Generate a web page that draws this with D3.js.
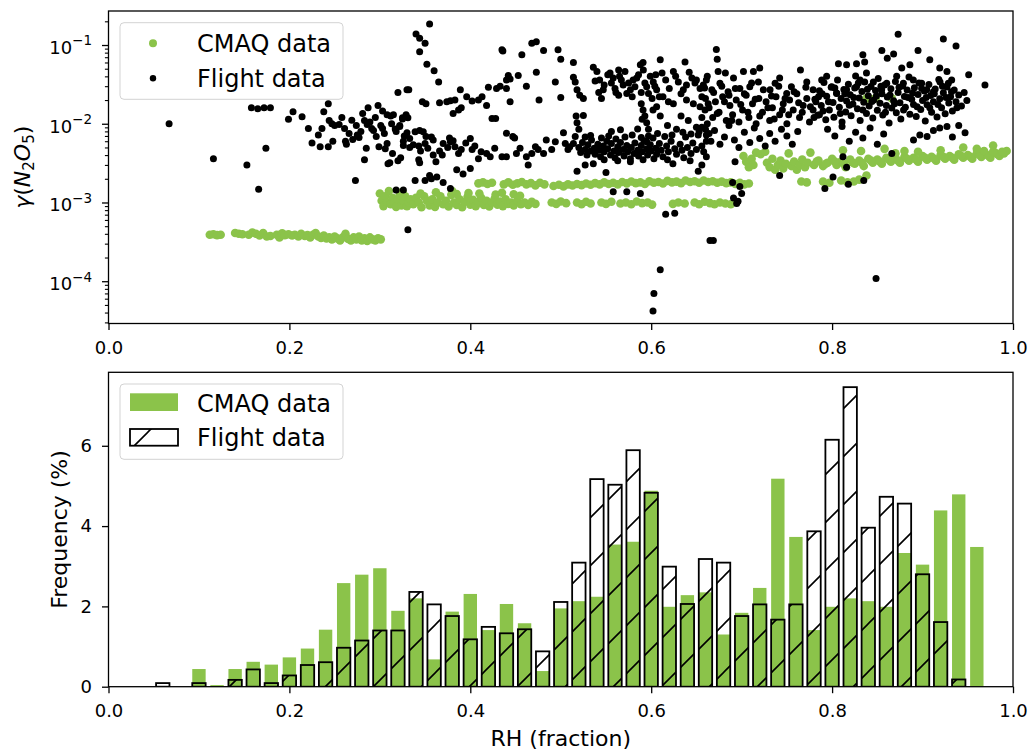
<!DOCTYPE html>
<html>
<head>
<meta charset="utf-8">
<script src="https://cdn.jsdelivr.net/npm/d3@7"></script>
<style>
  body { margin: 0; background: #fff; }
  text { font-family: "DejaVu Sans", sans-serif; fill: #000; }
</style>
</head>
<body>
<svg id="chart" width="1029" height="751"></svg>
<script>
// ---- data ----
const rhTicks = [0.0, 0.2, 0.4, 0.6, 0.8, 1.0];
const gammaTicks = [1e-4, 1e-3, 1e-2, 1e-1];
const freqTicks = [0, 2, 4, 6];

const binCenters = [0.00,0.02,0.04,0.06,0.08,0.10,0.12,0.14,0.16,0.18,
  0.20,0.22,0.24,0.26,0.28,0.30,0.32,0.34,0.36,0.38,
  0.40,0.42,0.44,0.46,0.48,0.50,0.52,0.54,0.56,0.58,
  0.60,0.62,0.64,0.66,0.68,0.70,0.72,0.74,0.76,0.78,
  0.80,0.82,0.84,0.86,0.88,0.90,0.92,0.94,0.96,0.98];

const cmaqFreq = [0,0,0,0,0,0.44,0.04,0.44,0.62,0.55,
  0.73,0.95,1.42,2.58,2.79,2.95,1.89,2.20,0.68,1.87,
  2.31,1.41,2.06,1.58,0.39,1.95,2.13,2.24,3.54,3.61,
  4.88,1.99,2.28,2.35,1.30,1.84,2.46,5.18,3.73,1.41,
  1.99,2.20,2.13,1.99,3.33,3.04,4.39,4.79,3.48,0];

const flightFreq = [0,0,0,0.09,0,0.09,0,0.17,0.43,0.09,
  0.28,0.54,0.61,0.97,1.15,1.40,1.40,2.36,2.05,1.76,
  1.18,1.49,1.33,1.43,0.88,2.11,3.09,5.17,5.03,5.89,
  4.83,2.99,2.06,3.18,3.09,1.76,2.05,1.67,2.05,3.87,
  6.15,7.46,3.96,4.73,4.56,2.80,1.61,0.18,0,0];

// [RH, gamma]
const cmaqPoints = [
  [0.112,3.9e-4],[0.116,3.95e-4],[0.120,3.85e-4],[0.124,3.9e-4],
  [0.140,4.1e-4],[0.144,4.0e-4],[0.148,3.95e-4],
  [0.155,3.9e-4],[0.159,4.15e-4],[0.163,4.0e-4],[0.167,3.8e-4],[0.171,4.1e-4],[0.175,3.7e-4],[0.179,3.75e-4],
  [0.186,3.9e-4],[0.189,3.6e-4],[0.192,4.05e-4],[0.195,3.85e-4],[0.199,3.95e-4],[0.203,3.8e-4],[0.206,3.9e-4],
  [0.210,3.7e-4],[0.213,4.0e-4],[0.217,3.75e-4],[0.220,3.85e-4],[0.223,3.6e-4],[0.226,3.9e-4],[0.229,4.1e-4],
  [0.232,3.7e-4],[0.235,3.55e-4],[0.238,3.8e-4],[0.241,3.5e-4],[0.244,3.6e-4],[0.247,3.4e-4],[0.250,3.7e-4],
  [0.253,3.5e-4],[0.256,3.3e-4],[0.259,3.6e-4],[0.262,4.0e-4],[0.265,3.45e-4],[0.268,3.3e-4],[0.271,3.6e-4],
  [0.274,3.4e-4],[0.277,3.7e-4],[0.280,3.3e-4],[0.283,3.5e-4],[0.286,3.25e-4],[0.289,3.6e-4],[0.292,3.4e-4],
  [0.295,3.3e-4],[0.298,3.5e-4],[0.301,3.4e-4],
  [0.300,1.3e-3],[0.302,1.05e-3],[0.304,9.0e-4],[0.306,1.2e-3],[0.308,1.0e-3],[0.310,1.4e-3],[0.312,9.5e-4],
  [0.314,1.15e-3],[0.316,1.0e-3],[0.318,8.8e-4],[0.320,1.1e-3],[0.322,1.25e-3],[0.324,9.2e-4],[0.326,1.05e-3],
  [0.328,1.2e-3],[0.330,9.0e-4],[0.332,1.0e-3],[0.334,1.1e-3],
  [0.337,9.5e-4],[0.340,1.15e-3],[0.343,1.0e-3],[0.346,8.7e-4],[0.349,1.2e-3],[0.352,1.05e-3],[0.355,9.2e-4],
  [0.358,1.1e-3],[0.361,8.8e-4],[0.364,1.0e-3],[0.367,1.2e-3],[0.370,9.5e-4],[0.373,1.05e-3],[0.376,8.9e-4],
  [0.379,1.25e-3],[0.382,1.0e-3],[0.385,9.3e-4],[0.388,1.1e-3],[0.391,8.7e-4],[0.394,1.02e-3],[0.397,1.18e-3],
  [0.400,9.4e-4],[0.403,1.08e-3],[0.406,9.0e-4],[0.409,1.0e-3],[0.412,1.15e-3],[0.415,9.3e-4],[0.418,1.05e-3],
  [0.421,8.9e-4],[0.424,1.0e-3],[0.427,1.12e-3],[0.430,9.4e-4],[0.433,1.03e-3],[0.436,9.0e-4],[0.439,1.1e-3],
  [0.442,9.6e-4],[0.445,1.0e-3],[0.448,9.2e-4],[0.452,1.05e-3],[0.456,9.5e-4],[0.460,1.0e-3],[0.464,9.3e-4],
  [0.468,1.02e-3],[0.472,9.6e-4],
  [0.345,1.3e-3],[0.362,1.35e-3],[0.385,1.28e-3],[0.398,1.32e-3],[0.410,1.3e-3],[0.428,1.26e-3],[0.435,1.33e-3],
  [0.448,1.27e-3],[0.455,1.22e-3],[0.325,1.37e-3],
  [0.490,1.0e-3],[0.495,9.6e-4],[0.500,1.03e-3],[0.506,9.8e-4],[0.518,1.0e-3],[0.523,9.5e-4],[0.528,1.02e-3],
  [0.533,9.7e-4],[0.545,1.0e-3],[0.550,9.6e-4],[0.556,1.02e-3],[0.566,9.7e-4],[0.572,1.0e-3],[0.578,9.5e-4],
  [0.584,1.03e-3],[0.590,9.8e-4],[0.596,1.0e-3],[0.601,9.4e-4],[0.624,9.6e-4],[0.630,1.0e-3],[0.637,9.7e-4],
  [0.648,1.0e-3],[0.653,9.5e-4],[0.659,1.02e-3],[0.665,9.8e-4],[0.670,9.5e-4],[0.676,1.0e-3],[0.682,9.7e-4],
  [0.688,9.5e-4],
  [0.380,1.4e-3],[0.409,1.75e-3],[0.414,1.8e-3],[0.419,1.72e-3],[0.424,1.78e-3],[0.437,1.7e-3],[0.442,1.8e-3],
  [0.447,1.68e-3],[0.452,1.75e-3],[0.457,1.82e-3],[0.462,1.7e-3],[0.467,1.76e-3],[0.472,1.65e-3],[0.477,1.78e-3],
  [0.482,1.7e-3],[0.492,1.62e-3],[0.498,1.68e-3],[0.503,1.6e-3],[0.508,1.7e-3],[0.513,1.64e-3],[0.518,1.72e-3],
  [0.523,1.66e-3],[0.528,1.74e-3],[0.533,1.68e-3],[0.538,1.76e-3],[0.543,1.7e-3],[0.548,1.8e-3],[0.553,1.72e-3],
  [0.558,1.78e-3],[0.563,1.7e-3],[0.568,1.82e-3],[0.573,1.75e-3],[0.578,1.85e-3],[0.583,1.76e-3],[0.588,1.8e-3],
  [0.593,1.72e-3],[0.598,1.86e-3],[0.603,1.78e-3],[0.608,1.82e-3],[0.613,1.74e-3],[0.618,1.88e-3],[0.623,1.8e-3],
  [0.628,1.84e-3],[0.633,1.76e-3],[0.638,1.9e-3],[0.643,1.82e-3],[0.648,1.86e-3],[0.653,1.78e-3],[0.658,1.9e-3],
  [0.663,1.82e-3],[0.668,1.86e-3],[0.673,1.78e-3],[0.678,1.84e-3],[0.683,1.76e-3],[0.688,1.8e-3],[0.693,1.72e-3],
  [0.698,1.78e-3],[0.703,1.7e-3],[0.708,1.74e-3],
  [0.702,3.9e-3],[0.705,3.3e-3],[0.708,2.8e-3],[0.711,3.6e-3],[0.713,3.0e-3],
  [0.716,4.3e-3],[0.721,4.1e-3],[0.726,4.4e-3],
  [0.728,3.2e-3],[0.731,2.8e-3],[0.734,3.6e-3],[0.737,2.6e-3],[0.740,3.0e-3],[0.743,3.4e-3],[0.746,2.7e-3],
  [0.749,3.1e-3],[0.752,4.2e-3],[0.755,2.9e-3],[0.758,3.3e-3],[0.761,2.6e-3],[0.764,3.0e-3],[0.767,3.5e-3],
  [0.770,2.8e-3],[0.773,3.2e-3],[0.776,4.3e-3],
  [0.766,1.85e-3],[0.772,1.8e-3],[0.790,1.85e-3],[0.797,1.78e-3],[0.810,1.9e-3],[0.817,1.8e-3],[0.824,1.85e-3],
  [0.830,1.95e-3],[0.838,2.2e-3],
  [0.780,3.0e-3],[0.785,3.4e-3],[0.790,2.9e-3],[0.795,3.2e-3],[0.800,3.6e-3],[0.805,3.0e-3],[0.810,3.3e-3],
  [0.815,2.8e-3],[0.820,3.5e-3],[0.825,3.1e-3],[0.830,3.4e-3],[0.835,2.9e-3],[0.840,3.6e-3],[0.845,3.2e-3],
  [0.850,3.5e-3],[0.855,3.1e-3],[0.860,3.7e-3],[0.865,3.3e-3],[0.870,3.6e-3],[0.875,3.2e-3],[0.880,3.8e-3],
  [0.885,3.4e-3],[0.890,3.7e-3],[0.895,3.3e-3],[0.900,3.9e-3],[0.905,3.5e-3],[0.910,3.8e-3],[0.915,3.4e-3],
  [0.920,4.0e-3],[0.925,3.6e-3],[0.930,3.9e-3],[0.935,3.5e-3],[0.940,4.1e-3],[0.945,3.7e-3],[0.950,4.0e-3],
  [0.955,3.6e-3],[0.960,4.2e-3],[0.965,3.8e-3],[0.970,4.1e-3],[0.975,3.7e-3],[0.980,4.3e-3],[0.985,3.9e-3],
  [0.990,4.2e-3],[0.993,4.5e-3],
  [0.783,3.3e-3],[0.793,3.1e-3],[0.803,3.3e-3],[0.813,3.1e-3],[0.823,3.2e-3],[0.833,3.2e-3],[0.843,3.4e-3],
  [0.853,3.3e-3],[0.863,3.5e-3],[0.873,3.4e-3],[0.883,3.6e-3],[0.893,3.5e-3],[0.903,3.7e-3],[0.913,3.6e-3],
  [0.923,3.8e-3],[0.933,3.7e-3],[0.943,3.9e-3],[0.953,3.8e-3],[0.963,4.0e-3],[0.973,3.9e-3],[0.983,4.1e-3],
  [0.988,4.4e-3],[0.978,4.4e-3],[0.968,4.5e-3],
  [0.978,5.3e-3],[0.945,5.0e-3],[0.858,4.8e-3],[0.812,4.6e-3],[0.832,4.5e-3],[0.960,4.8e-3],[0.920,4.6e-3],
  [0.895,4.4e-3],[0.880,4.5e-3],[0.870,4.2e-3],
  [0.838,2.1e-2],[0.843,2.05e-2],[0.848,2.1e-2],[0.866,2.1e-2]
];

const flightPoints = [
  [0.067,1.0e-2],[0.116,3.6e-3],[0.153,3.0e-3],[0.166,1.47e-3],[0.158,1.6e-2],[0.165,1.55e-2],[0.172,1.6e-2],
  [0.179,1.6e-2],[0.174,4.9e-3],[0.199,1.14e-2],[0.204,1.42e-2],[0.214,1.23e-2],[0.221,8.7e-3],[0.225,5.7e-3],
  [0.232,7.2e-3],[0.234,5.1e-3],[0.236,8.7e-3],[0.238,1.42e-2],[0.243,1.8e-2],[0.243,5.1e-3],[0.244,1.1e-2],
  [0.247,1.0e-2],[0.250,9.5e-3],[0.248,6.0e-3],[0.261,8.7e-3],[0.262,6.0e-3],[0.263,5.5e-3],[0.269,1.11e-2],
  [0.273,1.9e-3],[0.274,9.5e-3],[0.275,7.2e-3],[0.277,6.7e-3],[0.281,1.35e-2],[0.283,1.1e-2],[0.283,3.5e-3],
  [0.285,4.9e-3],[0.287,1.6e-2],[0.289,1.05e-2],[0.291,8.7e-3],[0.293,8.2e-3],[0.296,6.9e-3],[0.298,1.7e-2],
  [0.299,5.1e-3],[0.301,9.5e-3],[0.303,8.7e-3],[0.303,1.45e-2],[0.308,5.6e-3],[0.309,3.1e-3],[0.311,3.2e-3],
  [0.308,1.3e-2],[0.312,1.25e-2],[0.315,1.3e-2],[0.318,8.0e-3],[0.317,8.6e-3],[0.320,2.5e-2],[0.320,3.4e-3],
  [0.323,3.7e-3],[0.325,1.15e-2],[0.326,5.3e-3],[0.330,2.7e-2],[0.331,4.5e-4],[0.318,1.44e-3],[0.326,1.44e-3],
  [0.255,9.8e-3],[0.258,1.2e-2],[0.266,7.5e-3],[0.270,6.3e-3],[0.279,8.0e-3],[0.286,9.8e-3],[0.295,1.2e-2],
  [0.305,7.5e-3],[0.313,1.0e-2],[0.322,9.5e-3],[0.327,7.0e-3],[0.329,1.3e-2],[0.333,6.5e-3],[0.306,4.8e-3],
  [0.314,4.2e-3],
  [0.355,0.185],[0.340,0.138],[0.344,0.122],[0.350,0.105],[0.344,0.082],[0.352,0.057],[0.360,0.047],[0.365,0.034],
  [0.332,0.027],[0.347,0.019],[0.351,0.018],[0.325,0.0119],[0.331,0.0119],[0.322,0.0092],[0.330,0.0077],
  [0.339,0.0079],[0.344,0.0082],[0.348,0.0079],[0.337,0.0054],[0.343,0.0052],[0.351,0.0069],[0.357,0.0068],
  [0.359,0.0062],[0.350,0.0056],[0.353,0.0049],[0.359,0.0040],[0.362,0.0033],[0.343,0.0035],[0.344,0.0032],
  [0.339,0.0019],[0.350,0.0019],[0.355,0.0022],[0.357,0.0020],[0.363,0.0021],[0.370,0.0018],[0.378,0.0015],
  [0.366,0.0185],[0.374,0.019],[0.378,0.0196],[0.383,0.020],[0.389,0.027],[0.387,0.015],[0.381,0.0135],
  [0.390,0.016],[0.396,0.022],[0.402,0.0195],[0.409,0.020],[0.413,0.022],[0.420,0.029],[0.418,0.017],
  [0.429,0.028],[0.433,0.030],[0.440,0.036],[0.442,0.041],[0.444,0.037],[0.453,0.041],[0.424,0.0117],
  [0.428,0.0117],[0.440,0.028],[0.444,0.019],[0.435,0.087],[0.436,0.084],[0.457,0.075],[0.468,0.105],
  [0.473,0.110],[0.481,0.085],[0.473,0.045],[0.462,0.030],[0.476,0.020],[0.494,0.034],[0.497,0.087],
  [0.500,0.066],[0.514,0.060],[0.500,0.0216],[0.514,0.039],[0.516,0.034],[0.518,0.027],[0.521,0.023],
  [0.525,0.021],[0.440,0.0076],[0.447,0.0069],[0.449,0.0066],
  [0.370,0.0056],[0.378,0.0059],[0.383,0.0051],[0.387,0.0042],[0.390,0.0047],[0.400,0.0065],[0.402,0.0047],
  [0.409,0.0036],[0.418,0.0042],[0.422,0.0038],[0.427,0.0049],[0.435,0.0038],[0.440,0.0038],[0.451,0.0042],
  [0.455,0.0049],[0.462,0.0038],[0.464,0.0030],[0.468,0.0042],[0.472,0.0051],[0.475,0.0047],[0.481,0.0042],
  [0.484,0.0062],[0.490,0.0047],[0.494,0.0059],[0.503,0.0077],[0.505,0.0056],[0.508,0.0047],[0.510,0.0051],
  [0.385,0.0026],[0.392,0.0023],[0.400,0.0027],[0.377,0.0066],[0.381,0.0061],[0.375,0.0050],[0.395,0.0057],
  [0.405,0.0052],[0.412,0.0044],[0.326,0.0060],[0.333,0.0050],[0.345,0.0045],[0.366,0.0045],[0.369,0.0040],
  [0.536,0.052],[0.540,0.046],[0.543,0.036],[0.547,0.027],[0.538,0.035],[0.542,0.025],[0.545,0.021],
  [0.5545,0.044],[0.558,0.038],[0.564,0.048],[0.565,0.040],[0.569,0.031],[0.560,0.028],[0.564,0.023],
  [0.573,0.0243],[0.577,0.027],[0.580,0.036],[0.582,0.0295],[0.586,0.042],[0.588,0.056],[0.591,0.060],
  [0.5913,0.048],[0.595,0.0295],[0.597,0.0243],[0.601,0.021],[0.6023,0.034],[0.605,0.042],[0.610,0.065],
  [0.606,0.027],[0.609,0.022],[0.6245,0.046],[0.6374,0.061],[0.630,0.034],[0.639,0.031],[0.645,0.038],
  [0.6484,0.033],[0.654,0.028],[0.6576,0.031],[0.6466,0.018],[0.654,0.0165],[0.6595,0.015],[0.6355,0.027],
  [0.6245,0.018],[0.639,0.020],
  [0.548,0.031],[0.552,0.042],[0.556,0.033],[0.561,0.025],[0.567,0.036],[0.571,0.046],[0.575,0.033],
  [0.579,0.022],[0.584,0.038],[0.589,0.025],[0.593,0.033],[0.599,0.040],[0.604,0.030],[0.612,0.044],
  [0.616,0.036],[0.620,0.028],[0.627,0.040],[0.633,0.024],[0.642,0.045],[0.650,0.036],[0.656,0.022],
  [0.662,0.040],[0.613,0.022],[0.619,0.019],
  [0.589,0.018],[0.591,0.015],[0.593,0.0125],[0.595,0.0103],[0.597,0.0085],[0.590,0.0114],[0.595,0.0059],
  [0.602,0.015],[0.606,0.0165],[0.610,0.0125],
  [0.517,0.0125],[0.518,0.0103],[0.520,0.0085],[0.516,0.0069],[0.514,0.0056],[0.525,0.0127],
  [0.520,0.0050],[0.522,0.0043],[0.524,0.0058],[0.527,0.0047],[0.529,0.0040],[0.530,0.0054],[0.533,0.0045],
  [0.534,0.0062],[0.537,0.0049],[0.538,0.0041],[0.541,0.0055],[0.542,0.0046],[0.544,0.0038],[0.547,0.0052],
  [0.548,0.0044],[0.551,0.0060],[0.552,0.0048],[0.555,0.0040],[0.556,0.0056],[0.559,0.0045],[0.560,0.0037],
  [0.563,0.0051],[0.564,0.0043],[0.566,0.0058],[0.569,0.0047],[0.570,0.0039],[0.573,0.0053],[0.574,0.0044],
  [0.577,0.0036],[0.578,0.0050],[0.581,0.0042],[0.582,0.0057],[0.585,0.0046],[0.586,0.0039],[0.589,0.0053],
  [0.590,0.0044],[0.592,0.0061],[0.595,0.0048],[0.596,0.0040],[0.599,0.0054],[0.600,0.0045],[0.602,0.0066],
  [0.605,0.0049],[0.606,0.0041],[0.609,0.0056],[0.611,0.0046],[0.613,0.0038],[0.617,0.0052],[0.619,0.0044],
  [0.622,0.0060],[0.626,0.0048],[0.628,0.0041],[0.632,0.0055],[0.634,0.0046],[0.638,0.0068],[0.640,0.0050],
  [0.644,0.0042],[0.646,0.0057],[0.650,0.0047],[0.652,0.0072],[0.656,0.0052],[0.658,0.0044],[0.661,0.0060],
  [0.664,0.0075],
  [0.527,0.0068],[0.533,0.0071],[0.545,0.0066],[0.553,0.0070],[0.561,0.0064],[0.571,0.0068],[0.579,0.0072],
  [0.589,0.0067],[0.597,0.0070],[0.607,0.0075],[0.615,0.0069],[0.623,0.0072],[0.635,0.0078],[0.644,0.0074],
  [0.653,0.0080],[0.660,0.0085],[0.548,0.0035],[0.563,0.0034],[0.577,0.0033],[0.591,0.0035],[0.603,0.0036],
  [0.618,0.0035],[0.636,0.0037],
  [0.518,0.0025],[0.527,0.0030],[0.536,0.0031],[0.550,0.0024],[0.558,0.00137],[0.573,0.00137],[0.588,0.0013],
  [0.616,7.1e-4],[0.626,7.3e-4],[0.610,1.4e-4],[0.603,7.0e-5],[0.602,4.2e-5],[0.665,3.3e-4],[0.624,0.0031],
  [0.643,0.0034],[0.652,0.0025],[0.656,0.0030],[0.661,0.0038],
  [0.618,0.0095],[0.628,0.0085],[0.641,0.0110],[0.650,0.0090],[0.656,0.0120],[0.662,0.0100],[0.633,0.0125],
  [0.556,0.0080],[0.566,0.0084],[0.585,0.0086],
  [0.672,0.088],[0.673,0.066],[0.873,0.137],[0.923,0.119],[0.937,0.097],[0.855,0.085],[0.868,0.077],
  [0.895,0.085],[0.861,0.068],[0.834,0.075],[0.836,0.061],[0.807,0.058],[0.816,0.056],[0.827,0.058],
  [0.838,0.044],[0.877,0.051],[0.886,0.056],[0.908,0.065],[0.919,0.051],[0.927,0.046],[0.951,0.042],
  [0.765,0.048],[0.742,0.038],[0.720,0.051],[0.713,0.046],[0.702,0.046],[0.691,0.038],[0.682,0.044],
  [0.674,0.046],[0.661,0.036],
  [0.6577,0.0295],[0.667,0.027],[0.676,0.0326],[0.685,0.0255],[0.698,0.028],[0.709,0.0295],[0.7185,0.034],
  [0.7314,0.027],[0.737,0.0326],[0.7498,0.0243],[0.755,0.0295],[0.772,0.034],[0.779,0.027],[0.7885,0.036],
  [0.794,0.040],[0.7996,0.0295],[0.805,0.0243],[0.816,0.027],[0.827,0.0295],[0.8309,0.036],[0.8456,0.034],
  [0.8548,0.027],[0.8604,0.0326],[0.8714,0.040],[0.8788,0.0326],[0.8898,0.036],[0.899,0.0326],[0.9046,0.027],
  [0.912,0.0255],[0.9193,0.034],[0.9285,0.0326],[0.9322,0.036],
  [0.660,0.021],[0.664,0.016],[0.668,0.012],[0.671,0.019],[0.675,0.014],[0.679,0.022],[0.683,0.011],
  [0.687,0.017],[0.690,0.013],[0.694,0.020],[0.697,0.0105],[0.701,0.015],[0.705,0.023],[0.708,0.012],
  [0.712,0.018],[0.716,0.010],[0.719,0.021],[0.723,0.014],[0.727,0.019],[0.731,0.011],[0.734,0.016],
  [0.738,0.022],[0.742,0.013],[0.746,0.018],[0.750,0.010],[0.753,0.020],[0.757,0.015],[0.761,0.024],
  [0.764,0.012],[0.768,0.017],[0.772,0.021],[0.775,0.0105],[0.779,0.015],[0.782,0.019],[0.786,0.013],
  [0.789,0.024],
  [0.659,0.0285],[0.663,0.0180],[0.669,0.0250],[0.673,0.0135],[0.678,0.0300],[0.681,0.0190],[0.686,0.0230],
  [0.689,0.0110],[0.693,0.0280],[0.699,0.0175],[0.703,0.0240],[0.707,0.0140],[0.711,0.0330],[0.715,0.0205],
  [0.720,0.0125],[0.724,0.0270],[0.729,0.0160],[0.733,0.0225],[0.736,0.0115],[0.741,0.0300],[0.745,0.0150],
  [0.748,0.0210],[0.752,0.0130],[0.758,0.0255],[0.763,0.0185],[0.767,0.0140],[0.771,0.0290],[0.776,0.0165],
  [0.780,0.0120],[0.785,0.0220],
  [0.781,0.0205],[0.784,0.0128],[0.786,0.0262],[0.788,0.0171],[0.791,0.0335],[0.793,0.0112],[0.794,0.0224],
  [0.797,0.0150],[0.799,0.0290],[0.801,0.0186],[0.802,0.0121],[0.805,0.0245],[0.806,0.0360],[0.808,0.0162],
  [0.810,0.0210],[0.811,0.0105],[0.813,0.0272],[0.815,0.0141],[0.816,0.0195],[0.818,0.0318],[0.820,0.0233],
  [0.821,0.0126],[0.823,0.0178],[0.825,0.0284],[0.826,0.0405],[0.828,0.0155],[0.830,0.0212],[0.831,0.0110],
  [0.833,0.0256],[0.835,0.0188],[0.836,0.0340],[0.838,0.0135],[0.840,0.0226],[0.841,0.0168],[0.843,0.0298],
  [0.845,0.0118],[0.846,0.0201],[0.848,0.0265],[0.850,0.0148],[0.851,0.0375],[0.853,0.0182],[0.855,0.0240],
  [0.856,0.0129],[0.858,0.0310],[0.860,0.0170],[0.861,0.0218],[0.863,0.0102],[0.865,0.0278],[0.866,0.0158],
  [0.868,0.0196],[0.870,0.0345],[0.871,0.0138],[0.873,0.0250],[0.875,0.0185],[0.876,0.0115],[0.878,0.0302],
  [0.880,0.0222],[0.881,0.0162],[0.883,0.0268],[0.885,0.0392],[0.886,0.0132],[0.888,0.0205],[0.890,0.0176],
  [0.891,0.0286],[0.893,0.0124],[0.895,0.0236],[0.896,0.0330],[0.898,0.0152],[0.900,0.0198],[0.902,0.0260],
  [0.903,0.0108],[0.905,0.0174],[0.907,0.0315],[0.909,0.0228],[0.910,0.0140],[0.912,0.0190],[0.914,0.0276],
  [0.916,0.0122],[0.918,0.0365],[0.919,0.0208],[0.921,0.0160],[0.923,0.0248],[0.925,0.0134],[0.927,0.0292],
  [0.929,0.0184],[0.931,0.0220],[0.933,0.0145],[0.935,0.0268],[0.937,0.0190],[0.940,0.0232],[0.943,0.0168],
  [0.946,0.0250],[0.949,0.0198],
  [0.790,0.0145],[0.796,0.0190],[0.803,0.0285],[0.809,0.0135],[0.814,0.0240],[0.819,0.0172],[0.824,0.0215],
  [0.829,0.0330],[0.834,0.0150],[0.839,0.0275],[0.844,0.0192],[0.849,0.0225],[0.854,0.0300],[0.859,0.0140],
  [0.864,0.0232],[0.869,0.0180],[0.874,0.0290],[0.879,0.0150],[0.884,0.0215],[0.889,0.0245],[0.894,0.0165],
  [0.899,0.0280],[0.904,0.0215],[0.908,0.0160],[0.913,0.0240],[0.917,0.0175],[0.922,0.0300],[0.926,0.0215],
  [0.932,0.0255],[0.938,0.0160],
  [0.656,0.0090],[0.661,0.0072],[0.666,0.0060],[0.670,0.0082],[0.676,0.0055],[0.681,0.0068],[0.686,0.0095],
  [0.692,0.0062],[0.697,0.0050],[0.703,0.0078],[0.709,0.0058],[0.714,0.0088],[0.720,0.0065],[0.726,0.0052],
  [0.731,0.0075],[0.737,0.0060],[0.744,0.0085],[0.750,0.0070],[0.756,0.0055],[0.762,0.0080],[0.6927,0.0033],
  [0.742,0.0022],[0.6945,9.7e-4],[0.696,0.00104],[0.691,0.00114],[0.6687,3.3e-4],[0.8486,1.08e-4],
  [0.792,0.0015],[0.801,0.0021],[0.812,0.0038],[0.816,0.0028],[0.947,0.0077],[0.927,0.0092],[0.919,0.0088],
  [0.969,0.031],[0.866,0.0042],[0.890,0.0062],[0.897,0.0072],[0.905,0.0069],
  [0.795,0.0085],[0.803,0.0070],[0.811,0.0092],[0.819,0.0060],[0.826,0.0078],[0.834,0.0066],[0.842,0.0088],
  [0.850,0.0055],[0.857,0.0074],[0.912,0.0082],[0.933,0.0068],[0.940,0.0095],
  [0.698,0.0016],[0.700,0.0013],[0.690,0.0018],[0.818,0.0017],[0.835,0.0019]
];

// ---- layout ----
const green = "#8bc34a";
const svg = d3.select("#chart");
const left = 108.5, right = 1013;
const top1 = 11, bot1 = 323.5;
const top2 = 372.3, bot2 = 686.7;

const x = d3.scaleLinear().domain([0, 1]).range([left, right]);
const yGamma = d3.scaleLog().domain([Math.pow(10, -4.537), Math.pow(10, -0.568)]).range([bot1, top1]);
const yFreq = d3.scaleLinear().domain([0, 7.83]).range([bot2, top2]);

const defs = svg.append("defs");
defs.append("clipPath").attr("id", "clip1")
  .append("rect").attr("x", left).attr("y", top1).attr("width", right - left).attr("height", bot1 - top1);
defs.append("clipPath").attr("id", "clip2")
  .append("rect").attr("x", left).attr("y", top2).attr("width", right - left).attr("height", bot2 - top2);
defs.append("pattern").attr("id", "hatch")
  .attr("patternUnits", "userSpaceOnUse")
  .attr("x", 4).attr("y", 0).attr("width", 48).attr("height", 48)
  .append("path")
  .attr("d", "M0,48L48,0M-6,6L6,-6M42,54L54,42")
  .attr("stroke", "#000").attr("stroke-width", 1.6);

function styleAxis(g) {
  g.select(".domain").remove();
  g.selectAll(".tick line").attr("stroke", "#000").attr("stroke-width", 1.3);
  g.selectAll(".tick text").attr("fill", "#000").style("font-size", "18px");
}

// ---- top panel: scatter ----
const scat = svg.append("g").attr("clip-path", "url(#clip1)");
scat.append("g").selectAll("circle")
  .data(cmaqPoints).enter().append("circle")
  .attr("cx", d => x(d[0])).attr("cy", d => yGamma(d[1]))
  .attr("r", 4.3).attr("fill", green);
scat.append("g").selectAll("circle")
  .data(flightPoints).enter().append("circle")
  .attr("cx", d => x(d[0])).attr("cy", d => yGamma(d[1]))
  .attr("r", 3.5).attr("fill", "#000");

svg.append("g").attr("transform", `translate(0,${bot1})`)
  .call(d3.axisBottom(x).tickValues(rhTicks).tickFormat(d3.format(".1f")).tickSize(6.5).tickPadding(11))
  .call(styleAxis);

const minorGamma = yGamma.ticks().filter(v => gammaTicks.indexOf(v) < 0 &&
  Math.abs(Math.log10(v) - Math.round(Math.log10(v))) > 1e-6);
svg.append("g").attr("transform", `translate(${left},0)`)
  .call(d3.axisLeft(yGamma).tickValues(minorGamma).tickFormat("").tickSize(3.6))
  .call(g => { g.select(".domain").remove(); g.selectAll(".tick line").attr("stroke", "#000").attr("stroke-width", 1.1); g.selectAll("text").remove(); });

const yg = svg.append("g").attr("transform", `translate(${left},0)`)
  .call(d3.axisLeft(yGamma).tickValues(gammaTicks).tickFormat("").tickSize(6.5).tickPadding(10))
  .call(styleAxis);
yg.selectAll(".tick text").each(function (d) {
  const t = d3.select(this).attr("dy", "0.46em");
  t.append("tspan").text("10");
  t.append("tspan").attr("dy", -8.3).style("font-size", "13.5px")
    .text("\u2212" + Math.round(-Math.log10(d)));
});

svg.append("rect").attr("x", left).attr("y", top1).attr("width", right - left).attr("height", bot1 - top1)
  .attr("fill", "none").attr("stroke", "#000").attr("stroke-width", 1.3);

const yl = svg.append("text").attr("transform", `translate(30,${(top1 + bot1) / 2}) rotate(-90)`)
  .attr("text-anchor", "middle").style("font-size", "22px");
yl.append("tspan").attr("font-style", "italic").text("\u03b3");
yl.append("tspan").text("(");
yl.append("tspan").attr("font-style", "italic").text("N");
yl.append("tspan").style("font-size", "15px").attr("dy", 4).text("2");
yl.append("tspan").attr("font-style", "italic").attr("dy", -4).text("O");
yl.append("tspan").style("font-size", "15px").attr("dy", 4).text("5");
yl.append("tspan").attr("dy", -4).text(")");

// legend (top)
const lg1 = svg.append("g");
lg1.append("rect").attr("x", 120).attr("y", 22.7).attr("width", 223).attr("height", 76.6).attr("rx", 4)
  .attr("fill", "#fff").attr("fill-opacity", 0.8).attr("stroke", "#d3d3d3");
lg1.append("circle").attr("cx", 153).attr("cy", 43.3).attr("r", 4).attr("fill", green);
lg1.append("circle").attr("cx", 153).attr("cy", 78.3).attr("r", 3.2).attr("fill", "#000");
lg1.append("text").attr("x", 197).attr("y", 52).style("font-size", "24px").text("CMAQ data");
lg1.append("text").attr("x", 197).attr("y", 87).style("font-size", "24px").text("Flight data");

// ---- bottom panel: histogram ----
const bw = 0.0148;
const bars = svg.append("g").attr("clip-path", "url(#clip2)");
bars.append("g").selectAll("rect")
  .data(binCenters.map((c, i) => ({ c: c, v: cmaqFreq[i] })).filter(d => d.v > 0))
  .enter().append("rect")
  .attr("x", d => x(d.c - bw / 2)).attr("width", d => x(d.c + bw / 2) - x(d.c - bw / 2))
  .attr("y", d => yFreq(d.v)).attr("height", d => yFreq(0) - yFreq(d.v))
  .attr("fill", green);
bars.append("g").selectAll("rect")
  .data(binCenters.map((c, i) => ({ c: c, v: flightFreq[i] })))
  .enter().append("rect")
  .attr("x", d => x(d.c - bw / 2)).attr("width", d => x(d.c + bw / 2) - x(d.c - bw / 2))
  .attr("y", d => yFreq(d.v)).attr("height", d => yFreq(0) - yFreq(d.v))
  .attr("fill", "url(#hatch)").attr("stroke", "#000").attr("stroke-width", 1.8);

svg.append("g").attr("transform", `translate(0,${bot2})`)
  .call(d3.axisBottom(x).tickValues(rhTicks).tickFormat(d3.format(".1f")).tickSize(6.5).tickPadding(11))
  .call(styleAxis);
svg.append("g").attr("transform", `translate(${left},0)`)
  .call(d3.axisLeft(yFreq).tickValues(freqTicks).tickFormat(d3.format("d")).tickSize(6.5).tickPadding(10))
  .call(styleAxis);

svg.append("rect").attr("x", left).attr("y", top2).attr("width", right - left).attr("height", bot2 - top2)
  .attr("fill", "none").attr("stroke", "#000").attr("stroke-width", 1.3);

svg.append("text").attr("transform", `translate(67,${(top2 + bot2) / 2}) rotate(-90)`)
  .attr("text-anchor", "middle").style("font-size", "22px").text("Frequency (%)");
svg.append("text").attr("x", (left + right) / 2).attr("y", 746)
  .attr("text-anchor", "middle").style("font-size", "22px").text("RH (fraction)");

// legend (bottom)
const lg2 = svg.append("g");
lg2.append("rect").attr("x", 120).attr("y", 384).attr("width", 223).attr("height", 75.3).attr("rx", 4)
  .attr("fill", "#fff").attr("fill-opacity", 0.8).attr("stroke", "#d3d3d3");
lg2.append("rect").attr("x", 130).attr("y", 393.3).attr("width", 48).attr("height", 17.7).attr("fill", green);
lg2.append("rect").attr("x", 130).attr("y", 429).attr("width", 48).attr("height", 16.7)
  .attr("fill", "url(#hatch)").attr("stroke", "#000").attr("stroke-width", 1.8);
lg2.append("text").attr("x", 197).attr("y", 411.5).style("font-size", "24px").text("CMAQ data");
lg2.append("text").attr("x", 197).attr("y", 446).style("font-size", "24px").text("Flight data");
</script>
</body>
</html>
